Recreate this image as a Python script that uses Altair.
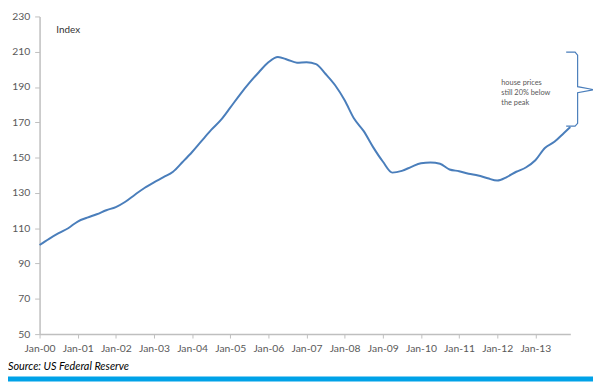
import altair as alt
import pandas as pd

# Quarterly readings of the house price index (Jan-00 = 100)
months = [
    "2000-01", "2000-04", "2000-07", "2000-10", "2001-01", "2001-04", "2001-07", "2001-10",
    "2002-01", "2002-04", "2002-07", "2002-10", "2003-01", "2003-04", "2003-07", "2003-10",
    "2004-01", "2004-04", "2004-07", "2004-10", "2005-01", "2005-04", "2005-07", "2005-10",
    "2006-01", "2006-04", "2006-07", "2006-10", "2007-01", "2007-04", "2007-07", "2007-10",
    "2008-01", "2008-04", "2008-07", "2008-10", "2009-01", "2009-04", "2009-07", "2009-10",
    "2010-01", "2010-04", "2010-07", "2010-10", "2011-01", "2011-04", "2011-07", "2011-10",
    "2012-01", "2012-04", "2012-07", "2012-10", "2013-01", "2013-04", "2013-07", "2013-10",
    "2013-12",
]
index_values = [
    100.5, 104.0, 107.2, 110.0, 113.8, 116.0, 117.9, 120.2,
    122.0, 125.0, 129.0, 132.8, 136.0, 138.9, 142.0, 147.5,
    153.2, 159.5, 165.7, 171.2, 178.3, 185.6, 192.3, 198.4,
    204.0, 207.0, 205.5, 203.8, 204.0, 203.0, 197.4, 191.0,
    182.5, 172.0, 165.0, 155.8, 147.8, 141.5, 142.5, 144.8,
    146.8, 147.2, 146.5, 143.3, 142.3, 140.9, 139.9, 138.3,
    137.0, 139.0, 142.0, 144.4, 148.5, 155.5, 159.0, 164.0,
    167.4,
]
y_ticks = [50, 70, 90, 110, 130, 150, 170, 190, 210, 230]
x_tick_labels = ["Jan-00", "Jan-01", "Jan-02", "Jan-03", "Jan-04", "Jan-05", "Jan-06",
                 "Jan-07", "Jan-08", "Jan-09", "Jan-10", "Jan-11", "Jan-12", "Jan-13"]

# brace annotation (months since Jan-00, index level): from the peak to today's level
brace_month = [165.7, 168.5, 169.3, 169.3, 174.5, 169.3, 169.3, 168.5, 165.7]
brace_level = [209.8, 209.8, 208.1, 190.2, 188.5, 186.8, 169.4, 167.8, 167.8]
note_lines = ["house prices", "still 20% below", "the peak"]

df = pd.DataFrame({"date": pd.to_datetime(months), "value": index_values})
df["m"] = (df["date"].dt.year - 2000) * 12 + (df["date"].dt.month - 1)

brace_df = pd.DataFrame({"m": brace_month, "value": brace_level, "o": range(len(brace_month))})

FONT = "Lato"
GRAY = "#595959"
AXIS = "#BFBFBF"

label_expr = "[" + ",".join("'%s'" % s for s in x_tick_labels) + "][datum.value/12]"

x = alt.X("m:Q", scale=alt.Scale(domain=[0, 167], nice=False, zero=False),
          axis=alt.Axis(values=[i * 12 for i in range(len(x_tick_labels))], labelExpr=label_expr,
                        title=None, grid=False, domainColor=AXIS, domainWidth=1.5, tickColor=AXIS,
                        tickWidth=1, tickSize=4, labelPadding=6, labelFont=FONT, labelFontSize=10.5,
                        labelColor=GRAY, labelFlush=False))
y = alt.Y("value:Q", scale=alt.Scale(domain=[50, 230], nice=False, zero=False),
          axis=alt.Axis(values=y_ticks, title=None, grid=False, domainColor=AXIS, domainWidth=1.5,
                        tickColor=AXIS, tickWidth=1, tickSize=5, labelPadding=5, labelFont=FONT,
                        labelFontSize=10.5, labelColor=GRAY))

line = alt.Chart(df).mark_line(color="#4A7EBB", strokeWidth=2, interpolate="monotone").encode(x=x, y=y)

brace = alt.Chart(brace_df).mark_line(color="#4A7EBB", strokeWidth=1.2).encode(
    x=x, y=y, order="o:Q")

note = alt.Chart(pd.DataFrame({"a": [0]})).mark_text(
    align="left", baseline="top", font=FONT, fontSize=7.5, color=GRAY, lineHeight=10.6
).encode(x=alt.value(468), y=alt.value(63), text=alt.value(note_lines))

index_label = alt.Chart(pd.DataFrame({"t": ["Index"]})).mark_text(
    align="left", baseline="middle", font=FONT, fontSize=10, color="#333333"
).encode(x=alt.value(17), y=alt.value(14), text="t:N")

source = alt.Chart(pd.DataFrame({"t": ["Source: US Federal Reserve"]})).mark_text(
    align="left", baseline="middle", font=FONT, fontSize=11, fontStyle="italic", color="#000000"
).encode(x=alt.value(-32), y=alt.value(355), text="t:N")

band = alt.Chart(pd.DataFrame({"a": [0]})).mark_rect(color="#00A2E8").encode(
    x=alt.value(-32), x2=alt.value(561), y=alt.value(365), y2=alt.value(370))

chart = alt.layer(band, line, brace, note, index_label, source).properties(
    width=538, height=322,
    background="white",
    autosize=alt.AutoSizeParams(type="none"),
    padding={"left": 32, "top": 6, "right": 23, "bottom": 47},
).configure_view(stroke="transparent", strokeWidth=0)

chart.save("out.html", embed_options={"renderer": "svg", "actions": False})
